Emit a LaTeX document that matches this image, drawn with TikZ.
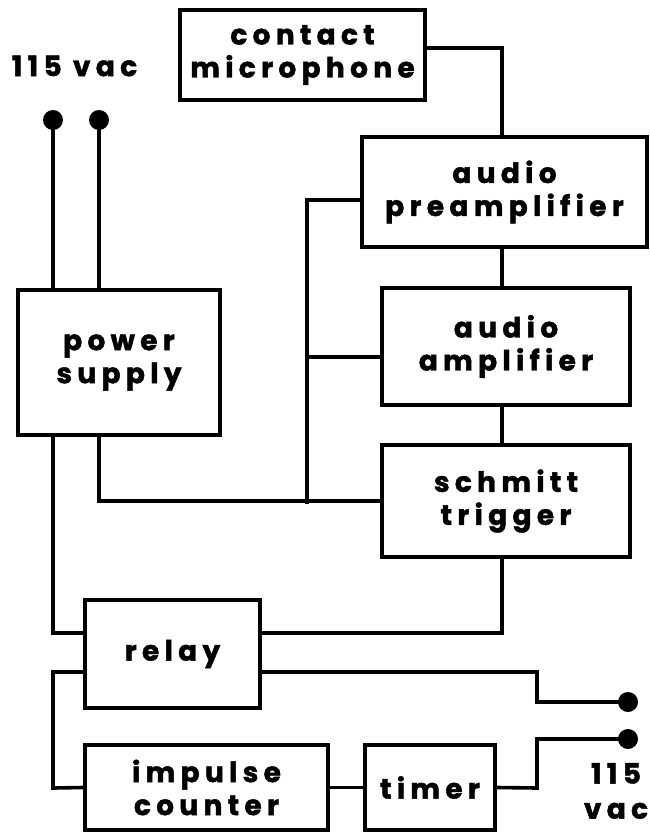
\documentclass[tikz,border=0pt]{standalone}
\usepackage{fontspec}
\newfontfamily\labfont{Poppins}[LetterSpace=19,FakeBold=1.6]
\begin{document}
\begin{tikzpicture}[x=1pt,y=-1pt,
  wire/.style={line width=3.6pt,line cap=rect,line join=miter},
  blk/.style={draw,line width=3.9pt,inner sep=0pt,align=center,
    font=\labfont\bfseries\fontsize{28}{33}\selectfont},
  lbl/.style={inner sep=0pt,align=center,font=\labfont\bfseries\fontsize{28}{35}\selectfont},
  term/.style={circle,fill,inner sep=0pt,minimum size=20pt}]
\useasboundingbox (0,0) rectangle (649,836);
% blocks
\node[blk,minimum width=245pt,minimum height=90pt] (mic) at (302.5,55) {contact\\microphone};
\node[blk,minimum width=285pt,minimum height=110pt] (pre) at (504.5,192) {audio\\preamplifier};
\node[blk,minimum width=202pt,minimum height=145pt] (ps) at (119,362.5) {power\\supply};
\node[blk,minimum width=248pt,minimum height=117pt] (amp) at (506,346.5) {audio\\amplifier};
\node[blk,minimum width=248pt,minimum height=112pt] (trig) at (506,501) {schmitt\\trigger};
\node[blk,minimum width=175pt,minimum height=108pt] (relay) at (172.5,654) {relay};
\node[blk,minimum width=243pt,minimum height=85pt] (imp) at (206.5,787.5) {impulse\\counter};
\node[blk,minimum width=130pt,minimum height=85pt] (timer) at (430,787.5) {timer};
% labels
\node[lbl] (vacA) at (74.5,66) {115 vac};
\node[lbl,align=center] (vacB) at (616,791) {115\\vac};
% terminals
\node[term] (t1) at (53,120) {};
\node[term] (t2) at (99,120) {};
\node[term] (t3) at (628,702) {};
\node[term] (t4) at (628,739) {};
% helper coordinates
\coordinate (vx) at (502,0);
\coordinate (c1) at (53,0);
\coordinate (c2) at (99,0);
\coordinate (busTop) at (307,200);
\coordinate (busAmp) at (307,357);
\coordinate (busBot) at (307,502);
\coordinate (trDown) at (502,633);
\coordinate (lft) at (53,633);
\coordinate (lft2) at (53,672);
\coordinate (lft3) at (53,788);
\coordinate (rr1) at (537,672);
\coordinate (rr2) at (537,702);
\coordinate (rt1) at (537,788);
\coordinate (rt2) at (537,739);
% connectors
\draw[wire] ([yshift=7pt]mic.east) -| (pre.north -| vx);
\draw[wire] (pre.south -| vx) -- (amp.north -| vx);
\draw[wire] (amp.south -| vx) -- (trig.north -| vx);
\draw[wire] ([yshift=-8pt]pre.west) -- (busTop) -- (busBot);
\draw[wire] ([yshift=-10.5pt]amp.west) -- (busAmp);
\draw[wire] (ps.south -| c2) |- (trig.west);
\draw[wire] (t1.center) -- (ps.north -| c1);
\draw[wire] (t2.center) -- (ps.north -| c2);
\draw[wire] (ps.south -| c1) -- (lft) -- ([yshift=21pt]relay.west);
\draw[wire] (trig.south -| vx) -- (trDown) -- ([yshift=21pt]relay.east);
\draw[wire] ([yshift=-18pt]relay.west) -- (lft2) -- (lft3) -- (imp.west);
\draw[wire] ([yshift=-18pt]relay.east) -- (rr1) -- (rr2) -- (t3.center);
\draw[wire] (imp.east) -- (timer.west);
\draw[wire] (timer.east) -- (rt1) -- (rt2) -- (t4.center);
\end{tikzpicture}
\end{document}
